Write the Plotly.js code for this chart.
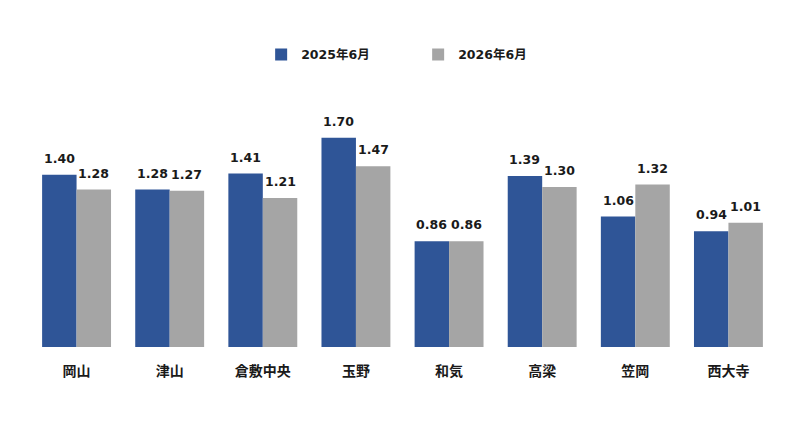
<!DOCTYPE html>
<html>
<head>
<meta charset="utf-8">
<script src="https://cdn.plot.ly/plotly-3.0.1.min.js"></script>
<style>
  html, body { margin: 0; padding: 0; background: #fff; }
  #chart { width: 800px; height: 435px; }
</style>
</head>
<body>
<div id="chart"></div>
<script>
// 岡山県内ハローワーク別 有効求人倍率
var areas = ['岡山', '津山', '倉敷中央', '玉野', '和気', '高梁', '笠岡', '西大寺'];
var ratio2025 = [1.40, 1.28, 1.41, 1.70, 0.86, 1.39, 1.06, 0.94];
var ratio2026 = [1.28, 1.27, 1.21, 1.47, 0.86, 1.30, 1.32, 1.01];
var seriesNames = ['2025年6月', '2026年6月'];

var FONT = 'DejaVu Sans, Verdana, "Noto Sans CJK JP", sans-serif';

var blue = {
  type: 'bar', name: seriesNames[0], x: areas, y: ratio2025,
  marker: { color: '#2F5597' }, hoverinfo: 'x+y'
};
var gray = {
  type: 'bar', name: seriesNames[1], x: areas, y: ratio2026,
  marker: { color: '#A5A5A5' }, hoverinfo: 'x+y'
};

// value labels sit a bit above each bar
var labels = [];
var half = 0.185;
areas.forEach(function (a, i) {
  labels.push({ x: i - half, y: ratio2025[i], text: ratio2025[i].toFixed(2) });
  labels.push({ x: i + half, y: ratio2026[i], text: ratio2026[i].toFixed(2) });
});
labels = labels.map(function (l) {
  return {
    xref: 'x', yref: 'y', x: l.x, y: l.y, text: l.text,
    showarrow: false, yanchor: 'bottom', yshift: 7,
    font: { family: FONT, size: 12.5, color: '#1a1a1a', weight: 'bold' }
  };
});

var layout = {
  width: 800, height: 435,
  margin: { l: 30, r: 25, t: 80, b: 88 },
  paper_bgcolor: '#fff', plot_bgcolor: '#fff',
  barmode: 'group', bargap: 0.26, bargroupgap: 0,
  showlegend: true,
  legend: {
    orientation: 'h', x: 0.521, xanchor: 'center', y: 1.094, yanchor: 'middle',
    entrywidth: 112, traceorder: 'normal', itemwidth: 30,
    font: { family: FONT, size: 12.5, color: '#1a1a1a', weight: 'bold' }
  },
  xaxis: {
    type: 'category', showline: false, ticks: '', showgrid: false,
    ticklabelstandoff: 14,
    tickfont: { family: FONT, size: 14, color: '#1a1a1a', weight: 'bold' }
  },
  yaxis: {
    range: [0, 2.17], visible: false, showgrid: false, zeroline: false
  },
  annotations: labels
};

Plotly.newPlot('chart', [blue, gray], layout, { displayModeBar: false, staticPlot: true });
</script>
</body>
</html>
